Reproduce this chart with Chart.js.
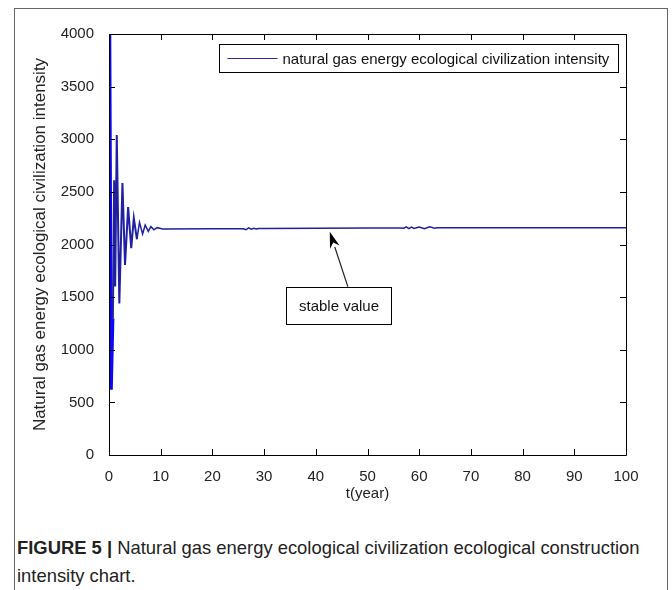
<!DOCTYPE html>
<html>
<head>
<meta charset="utf-8">
<script src="https://cdn.jsdelivr.net/npm/chart.js@4/dist/chart.umd.min.js"></script>
<style>
  html, body { margin: 0; padding: 0; background: #fff; width: 672px; height: 590px; overflow: hidden; }
  #frame { position: absolute; left: 14px; top: 8px; width: 654px; height: 640px; box-sizing: border-box; border: 1px solid #666; }
  #chart { position: absolute; left: 0; top: 0; }
  #caption { position: absolute; left: 17px; top: 534px; width: 648px; font-family: 'Liberation Sans', Arial, sans-serif; font-size: 18.4px; line-height: 28px; color: #222; white-space: nowrap; }
  #caption b { font-weight: bold; }
</style>
</head>
<body>
<div id="frame"></div>
<canvas id="chart" width="672" height="520"></canvas>
<div id="caption"><b>FIGURE 5 |</b> Natural gas energy ecological civilization ecological construction<br>intensity chart.</div>
<script>
// ---- data ----
const tYears = [0, 0.15, 0.45, 0.75, 1.0, 1.2, 1.5, 2.0, 2.6, 3.1, 3.7, 4.3, 4.8, 5.4, 5.9, 6.5, 7.0, 7.6, 8.1, 8.7, 9.3, 10.4,
  20, 25, 26, 26.5, 27, 27.5, 28, 28.5, 29, 30, 40, 50, 56, 57, 57.5, 58, 58.5, 59, 60, 61, 62, 63, 63.5, 65, 80, 100];
const intensity = [3750, 4000, 620, 1300, 2610, 1600, 3040, 1440, 2585, 1805, 2355, 1965, 2250, 2050, 2210, 2100, 2185, 2125, 2170, 2140, 2160, 2148,
  2150, 2150, 2150, 2140, 2158, 2145, 2155, 2148, 2152, 2152, 2155, 2156, 2157, 2155, 2168, 2150, 2165, 2152, 2166, 2150, 2168, 2155, 2160, 2160, 2160, 2160];
const seriesLabel = 'natural gas energy ecological civilization intensity';
const xTitle = 't(year)';
const yTitle = 'Natural gas energy ecological civilization intensity';
const xRange = [0, 100], xStep = 10;
const yRange = [0, 4000], yStep = 500;
const noteText = 'stable value';
const noteTip = {x: 42.7, y: 2120};
const noteTail = {x: 46.2, y: 1600};
const noteBox = {x0: 34.2, x1: 54.5, y0: 1600, y1: 1245};

const FONT = "'Liberation Sans', Arial, sans-serif";
const points = tYears.map((t, i) => ({x: t, y: intensity[i]}));

const boxTicks = {
  id: 'boxTicks',
  afterDatasetsDraw(chart) {
    const {ctx, chartArea: a, scales} = chart;
    ctx.save();
    ctx.strokeStyle = '#000';
    ctx.lineWidth = 1;
    ctx.beginPath();
    ctx.rect(Math.round(a.left) + 0.5, Math.round(a.top) + 0.5, Math.round(a.right - a.left), Math.round(a.bottom - a.top));
    ctx.stroke();
    const L = 6;
    ctx.beginPath();
    scales.x.ticks.forEach(t => {
      const p = Math.round(scales.x.getPixelForValue(t.value)) + 0.5;
      ctx.moveTo(p, a.bottom); ctx.lineTo(p, a.bottom - L);
      ctx.moveTo(p, a.top); ctx.lineTo(p, a.top + L);
    });
    scales.y.ticks.forEach(t => {
      const p = Math.round(scales.y.getPixelForValue(t.value)) + 0.5;
      ctx.moveTo(a.left, p); ctx.lineTo(a.left + L, p);
      ctx.moveTo(a.right, p); ctx.lineTo(a.right - L, p);
    });
    ctx.stroke();

    // legend box inside the axes (upper right)
    const ds = chart.data.datasets[0];
    ctx.font = '15px ' + FONT;
    const tw = ctx.measureText(ds.label).width;
    const lineLen = 50, pad = 8, gap = 5;
    const w = pad + lineLen + gap + tw + pad * 1.2;
    const h = 28;
    const bx = Math.round(a.right - 8 - w) + 0.5, by = Math.round(a.top + 10) + 0.5;
    ctx.fillStyle = '#fff';
    ctx.fillRect(bx, by, w, h);
    ctx.strokeStyle = '#000';
    ctx.strokeRect(bx, by, Math.round(w), h);
    ctx.strokeStyle = '#2a2a90';
    ctx.lineWidth = 1.2;
    ctx.beginPath();
    ctx.moveTo(bx + pad, by + h / 2); ctx.lineTo(bx + pad + lineLen, by + h / 2);
    ctx.stroke();
    ctx.fillStyle = '#111';
    ctx.textBaseline = 'middle';
    ctx.textAlign = 'left';
    ctx.fillText(ds.label, bx + pad + lineLen + gap, by + h / 2 + 1);

    // annotation
    const X = v => scales.x.getPixelForValue(v), Y = v => scales.y.getPixelForValue(v);
    const x0 = Math.round(X(noteBox.x0)) + 0.5, x1 = Math.round(X(noteBox.x1)) + 0.5;
    const y0 = Math.round(Y(noteBox.y0)) + 0.5, y1 = Math.round(Y(noteBox.y1)) + 0.5;
    ctx.fillStyle = '#fff';
    ctx.fillRect(x0, y0, x1 - x0, y1 - y0);
    ctx.strokeStyle = '#000';
    ctx.lineWidth = 1;
    ctx.strokeRect(x0, y0, x1 - x0, y1 - y0);
    ctx.fillStyle = '#111';
    ctx.textAlign = 'center';
    ctx.fillText(noteText, (x0 + x1) / 2, (y0 + y1) / 2 + 1);
    const tx = X(noteTip.x), ty = Y(noteTip.y), sx = X(noteTail.x), sy = Y(noteTail.y);
    const ang = Math.atan2(ty - sy, tx - sx);
    const hl = 16, hw = 5;
    const bxh = tx - hl * Math.cos(ang), byh = ty - hl * Math.sin(ang);
    ctx.strokeStyle = '#222';
    ctx.lineWidth = 1.2;
    ctx.beginPath();
    ctx.moveTo(sx, sy); ctx.lineTo(bxh, byh);
    ctx.stroke();
    ctx.fillStyle = '#000';
    ctx.beginPath();
    ctx.moveTo(tx, ty);
    ctx.lineTo(bxh + hw * Math.sin(ang), byh - hw * Math.cos(ang));
    ctx.lineTo(tx - hl * 0.7 * Math.cos(ang), ty - hl * 0.7 * Math.sin(ang));
    ctx.lineTo(bxh - hw * Math.sin(ang), byh + hw * Math.cos(ang));
    ctx.closePath();
    ctx.fill();
    ctx.restore();
  }
};

new Chart(document.getElementById('chart'), {
  type: 'line',
  data: {
    datasets: [{
      label: seriesLabel,
      data: points,
      borderColor: '#2020a0',
      borderWidth: 1.5,
      pointRadius: 0,
      tension: 0,
      fill: false,
      segment: {
        borderColor: c => c.p0.parsed.x < 0.5 ? '#0a0af0' : undefined,
        borderWidth: c => c.p0.parsed.x < 0.5 ? 3 : (c.p0.parsed.x < 5 ? 2 : undefined)
      }
    }]
  },
  options: {
    responsive: false,
    animation: false,
    devicePixelRatio: 1,
    layout: { padding: { left: 30, top: 34, right: 46, bottom: 17 } },
    plugins: { legend: { display: false }, tooltip: { enabled: false } },
    scales: {
      x: {
        type: 'linear', min: xRange[0], max: xRange[1],
        grid: { display: false }, border: { display: false },
        ticks: { stepSize: xStep, padding: 5, color: '#222', font: { family: FONT, size: 15 }, maxRotation: 0, callback: v => String(v) },
        title: { display: true, text: xTitle, color: '#222', font: { family: FONT, size: 15, lineHeight: 1.2 }, padding: 0 },
        afterFit: s => { s.height = 48; }
      },
      y: {
        type: 'linear', min: yRange[0], max: yRange[1],
        grid: { display: false }, border: { display: false },
        ticks: { stepSize: yStep, padding: 7, color: '#222', font: { family: FONT, size: 15 }, callback: v => String(v) },
        title: { display: true, text: yTitle, color: '#222', font: { family: FONT, size: 17, lineHeight: 1.2 }, padding: 0 },
        afterFit: s => { s.width = 79; }
      }
    }
  },
  plugins: [boxTicks]
});
</script>
</body>
</html>
